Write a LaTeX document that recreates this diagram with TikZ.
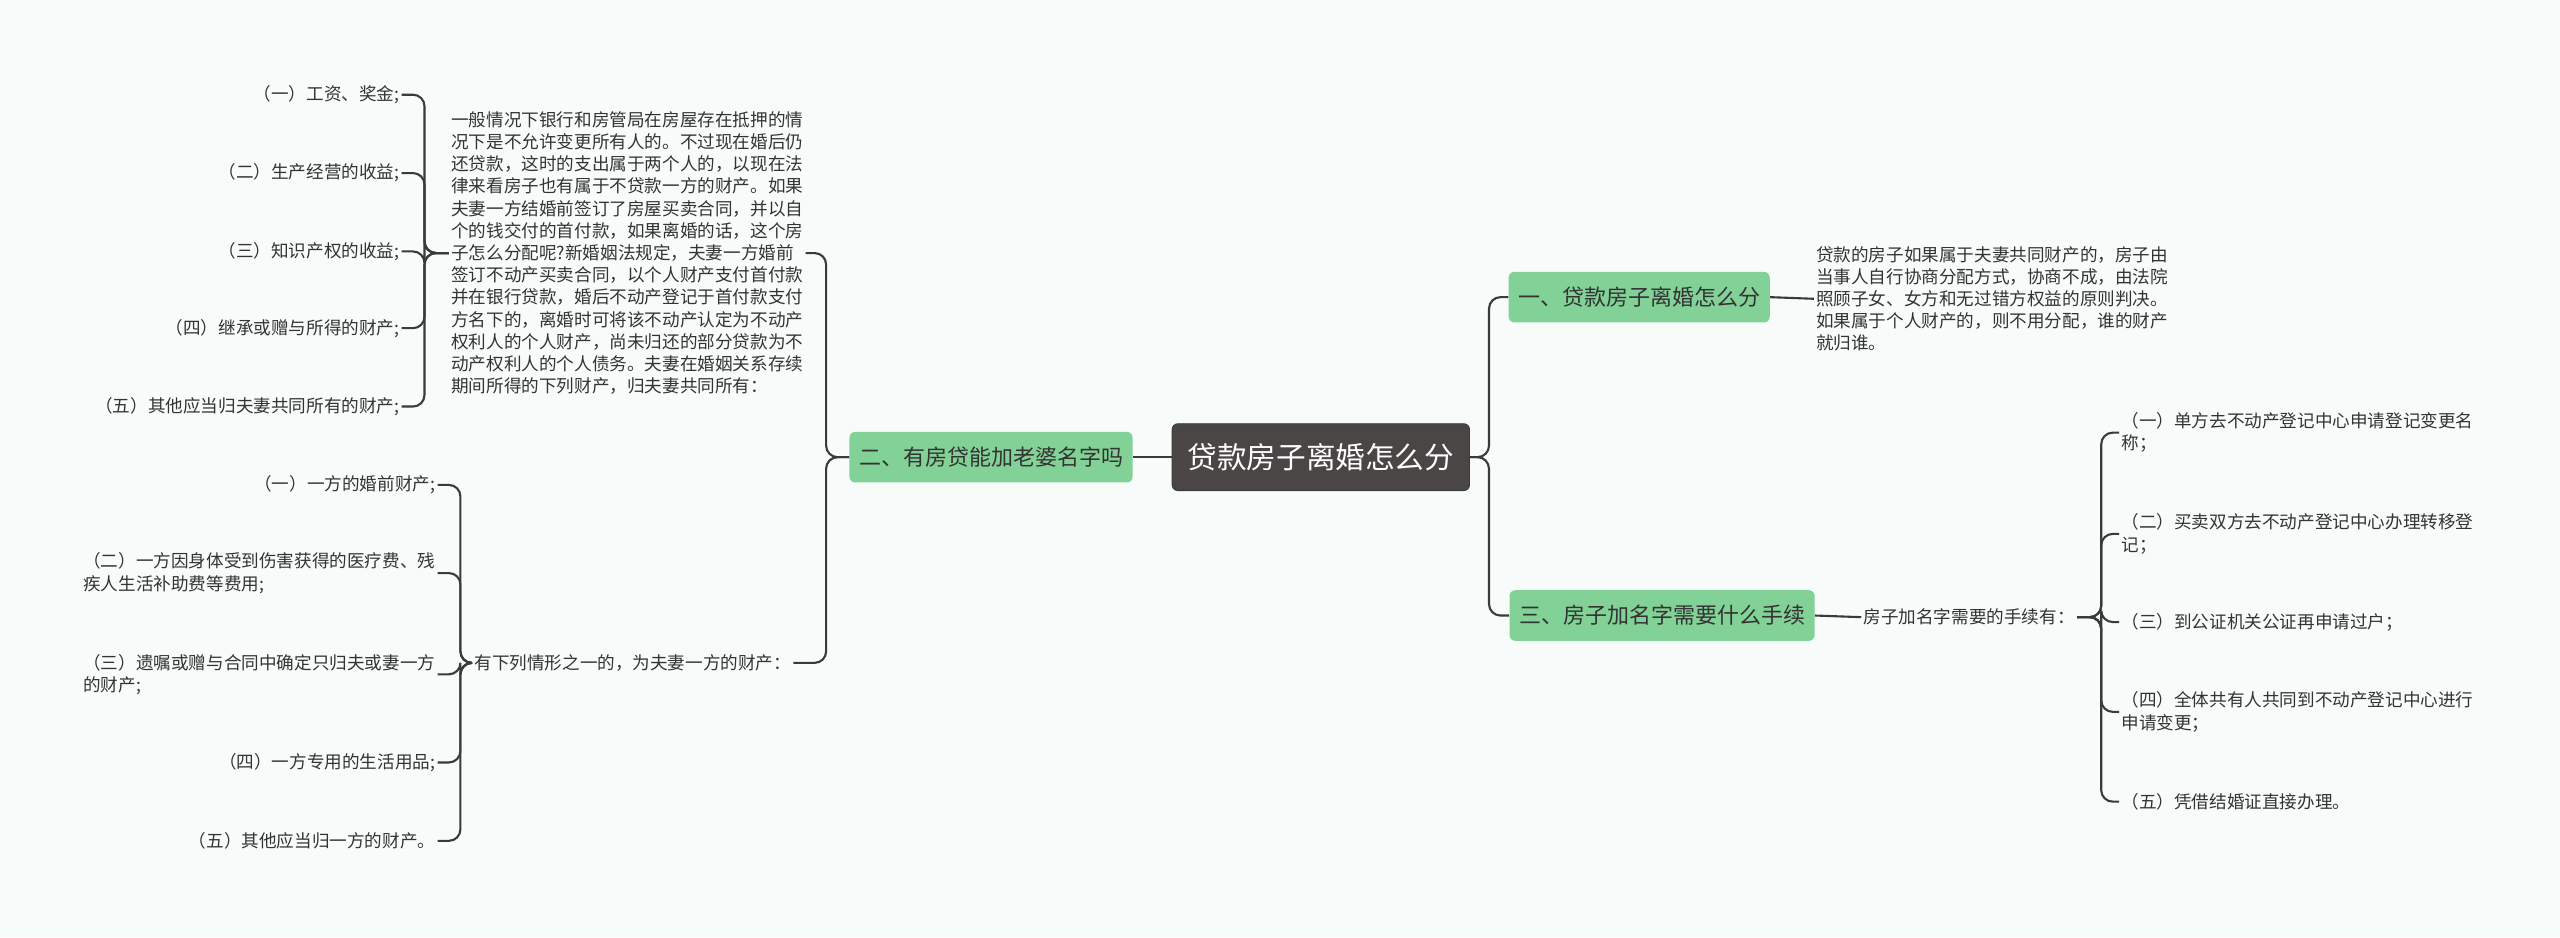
\documentclass[tikz,border=0pt]{standalone}
\usepackage{fontspec}
\setmainfont{Noto Sans CJK SC}
\usepackage{tikz}
\usetikzlibrary{positioning}
\definecolor{bgcol}{HTML}{F7FCFB}
\definecolor{rootcol}{HTML}{4A4646}
\definecolor{branchcol}{HTML}{82D196}
\definecolor{linecol}{HTML}{3A3A3A}
\tikzset{
  rootbox/.style={draw=linecol, fill=rootcol, text=white, rounded corners=3pt, minimum height=41*0.03cm, inner xsep=8pt, font=\fontsize{15.5}{18}\selectfont},
  branchbox/.style={fill=branchcol, text=black!80, rounded corners=3pt, minimum height=31*0.03cm, inner xsep=5pt, font=\fontsize{11.5}{14}\selectfont},
  leaf/.style={inner sep=1pt, text=black!80, font=\fontsize{9.2}{11.6}\selectfont},
  link/.style={draw=linecol, line width=1.1pt, rounded corners=6pt}
}
\begin{document}
\begin{tikzpicture}[x=0.03cm, y=-0.03cm]
%%%%% Background %%%%%
\fill[bgcol] (0,0) rectangle (1568,574);
\useasboundingbox (0,0) rectangle (1568,574);
%%%%% Main nodes %%%%%
\node[rootbox] (root) at (809,280) {贷款房子离婚怎么分};
\node[branchbox] (b1) at (1004,182) {一、贷款房子离婚怎么分};
\node[branchbox] (b2) at (607,280) {二、有房贷能加老婆名字吗};
\node[branchbox] (b3) at (1018,377) {三、房子加名字需要什么手续};
%%%%% Branch one %%%%%
\node[leaf, anchor=west, align=left] (b1t) at (1111,183) {贷款的房子如果属于夫妻共同财产的，房子由\\当事人自行协商分配方式，协商不成，由法院\\照顾子女、女方和无过错方权益的原则判决。\\如果属于个人财产的，则不用分配，谁的财产\\就归谁。};
%%%%% Branch three %%%%%
\node[leaf, anchor=west] (b3t) at (1140,378) {房子加名字需要的手续有：};
\node[leaf, anchor=west, align=left] (c1) at (1298,265) {（一）单方去不动产登记中心申请登记变更名\\称；};
\node[leaf, anchor=west, align=left] (c2) at (1298,327) {（二）买卖双方去不动产登记中心办理转移登\\记；};
\node[leaf, anchor=west] (c3) at (1298,381) {（三）到公证机关公证再申请过户；};
\node[leaf, anchor=west, align=left] (c4) at (1298,436) {（四）全体共有人共同到不动产登记中心进行\\申请变更；};
\node[leaf, anchor=west] (c5) at (1298,491) {（五）凭借结婚证直接办理。};
%%%%% Branch two %%%%%
\node[leaf, anchor=west, align=left] (b2t) at (275,155) {一般情况下银行和房管局在房屋存在抵押的情\\况下是不允许变更所有人的。不过现在婚后仍\\还贷款，这时的支出属于两个人的，以现在法\\律来看房子也有属于不贷款一方的财产。如果\\夫妻一方结婚前签订了房屋买卖合同，并以自\\个的钱交付的首付款，如果离婚的话，这个房\\子怎么分配呢?新婚姻法规定，夫妻一方婚前\\签订不动产买卖合同，以个人财产支付首付款\\并在银行贷款，婚后不动产登记于首付款支付\\方名下的，离婚时可将该不动产认定为不动产\\权利人的个人财产，尚未归还的部分贷款为不\\动产权利人的个人债务。夫妻在婚姻关系存续\\期间所得的下列财产，归夫妻共同所有：};
\node[leaf, anchor=east] (b2u) at (486,406) {有下列情形之一的，为夫妻一方的财产：};
\node[leaf, anchor=east] (d1) at (246,58) {（一）工资、奖金;};
\node[leaf, anchor=east] (d2) at (246,106) {（二）生产经营的收益;};
\node[leaf, anchor=east] (d3) at (246,154) {（三）知识产权的收益;};
\node[leaf, anchor=east] (d4) at (246,201) {（四）继承或赠与所得的财产;};
\node[leaf, anchor=east] (d5) at (246,249) {（五）其他应当归夫妻共同所有的财产;};
\node[leaf, anchor=east] (e1) at (268,297) {（一）一方的婚前财产;};
\node[leaf, anchor=east, align=left] (e2) at (268,351) {（二）一方因身体受到伤害获得的医疗费、残\\疾人生活补助费等费用;};
\node[leaf, anchor=east, align=left] (e3) at (268,413) {（三）遗嘱或赠与合同中确定只归夫或妻一方\\的财产;};
\node[leaf, anchor=east] (e4) at (268,467) {（四）一方专用的生活用品;};
\node[leaf, anchor=east] (e5) at (268,515) {（五）其他应当归一方的财产。};
%%%%% Links %%%%%
\foreach \c in {b1,b3}
  \draw[link] (root.east) -- (912,280) |- (\c.west);
\draw[link] (root.west) -- (b2.east);
\draw[link] (b1.east) -- (b1t.west);
\draw[link] (b3.east) -- (b3t.west);
\foreach \c in {c1,c2,c3,c4,c5}
  \draw[link] (b3t.east) -- (1287,378) |- (\c.west);
\foreach \c in {b2t,b2u}
  \draw[link] (b2.west) -- (506,280) |- (\c.east);
\foreach \c in {d1,d2,d3,d4,d5}
  \draw[link] (b2t.west) -- (260,155) |- (\c.east);
\foreach \c in {e1,e2,e3,e4,e5}
  \draw[link] (b2u.west) -- (282,406) |- (\c.east);
\end{tikzpicture}
\end{document}
